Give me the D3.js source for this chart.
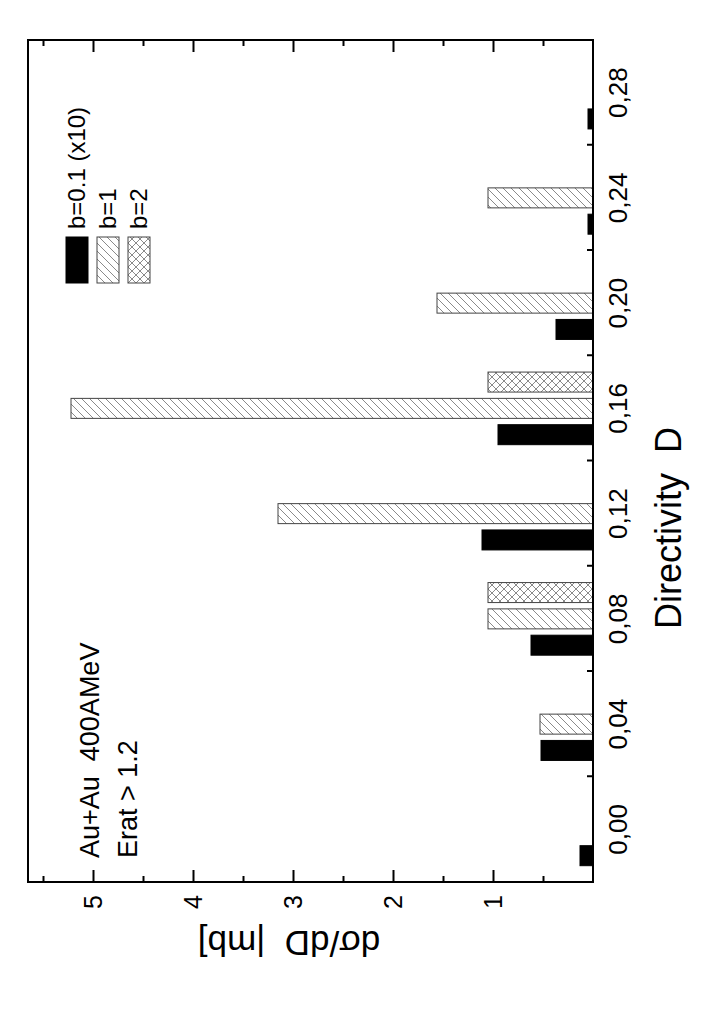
<!DOCTYPE html>
<html><head><meta charset="utf-8">
<script src="https://cdn.jsdelivr.net/npm/d3@7"></script>
<style>body{margin:0;background:#fff} svg{display:block}</style>
</head><body>
<script>
// ---- data ----
const categories = [0.00, 0.04, 0.08, 0.12, 0.16, 0.20, 0.24, 0.28];
const categoryLabels = ["0,00","0,04","0,08","0,12","0,16","0,20","0,24","0,28"];
const valueTicks = [1, 2, 3, 4, 5];
const seriesNames = ["b=0.1 (x10)", "b=1", "b=2"];
const valuesB01 = [0.13, 0.52, 0.62, 1.11, 0.95, 0.37, 0.05, 0.05];
const valuesB1  = [null, 0.53, 1.05, 3.15, 5.22, 1.56, 1.05, null];
const valuesB2  = [null, null, 1.05, null, 1.05, null, null, null];
const annotation1 = "Au+Au  400AMeV";
const annotation2 = "Erat > 1.2";
const xTitle = "Directivity  D";
const yTitle = "d\u03C3/dD  |mb]";

// ---- layout ----
const W = 707, H = 1013;
const svg = d3.select("body").append("svg").attr("width", W).attr("height", H)
  .style("font-family", "'Liberation Sans', Arial, sans-serif");
const defs = svg.append("defs");
const hatch = defs.append("pattern").attr("id","hatch").attr("patternUnits","userSpaceOnUse")
  .attr("width",8).attr("height",8);
hatch.append("rect").attr("width",8).attr("height",8).attr("fill","#fff");
hatch.append("path").attr("d","M0,8L8,0M-2,2L2,-2M6,10L10,6").attr("stroke","#8a8a8a").attr("stroke-width",1);
const cross = defs.append("pattern").attr("id","cross").attr("patternUnits","userSpaceOnUse")
  .attr("width",8).attr("height",8);
cross.append("rect").attr("width",8).attr("height",8).attr("fill","#fff");
cross.append("path").attr("d","M0,8L8,0M-2,2L2,-2M6,10L10,6M0,0L8,8M-2,6L2,10M6,-2L10,2").attr("stroke","#8a8a8a").attr("stroke-width",1);

// chart drawn in unrotated frame, then rotated -90deg onto the page
const g = svg.append("g").attr("transform", `translate(0,${H}) rotate(-90)`);
const x = d3.scaleLinear().domain([-0.02, 0.30]).range([131, 973]);
const y = d3.scaleLinear().domain([0, 5.65]).range([593, 28]);
const offsets = [-0.01, 0, 0.01];
const barW = x(0.0076) - x(0);
const fills = ["#000", "url(#hatch)", "url(#cross)"];
const strokes = ["#000", "#444", "#444"];
const series = [valuesB01, valuesB1, valuesB2];

series.forEach((vals, si) => {
  const data = categories.map((c, i) => ({c, v: vals[i]})).filter(d => d.v != null);
  g.append("g").selectAll("rect").data(data).join("rect")
    .attr("x", d => x(d.c + offsets[si]) - barW / 2)
    .attr("width", barW)
    .attr("y", d => y(d.v))
    .attr("height", d => y(0) - y(d.v))
    .attr("fill", fills[si]).attr("stroke", strokes[si]).attr("stroke-width", 1);
});

// frame
g.append("rect").attr("x", x.range()[0]).attr("y", y.range()[1])
  .attr("width", x.range()[1] - x.range()[0]).attr("height", y.range()[0] - y.range()[1])
  .attr("fill", "none").attr("stroke", "#000").attr("stroke-width", 2);

// x axis: ticks between categories (inward), labels at categories
const xMinor = d3.range(0.02, 0.27, 0.04);
const xAxis = d3.axisBottom(x).tickValues(xMinor).tickSizeInner(-6).tickSizeOuter(0).tickFormat("");
g.append("g").attr("transform", `translate(0,${y(0)})`).call(xAxis)
  .call(s => s.select(".domain").remove())
  .call(s => s.selectAll("line").attr("stroke-width", 2));
g.append("g").selectAll("text").data(categories).join("text")
  .attr("x", d => x(d)).attr("y", 627).attr("text-anchor", "middle")
  .attr("font-size", 26).text((d, i) => categoryLabels[i]);

// y axis (left & right of unrotated frame)
const yMinorVals = d3.range(0.5, 5.6, 1);
[[x.range()[0], 1], [x.range()[1], -1]].forEach(([pos, dir]) => {
  const a = dir > 0 ? d3.axisLeft(y) : d3.axisRight(y);
  g.append("g").attr("transform", `translate(${pos},0)`)
    .call(a.tickValues(valueTicks).tickSizeInner(-12).tickSizeOuter(0).tickFormat(""))
    .call(s => s.select(".domain").remove()).call(s => s.selectAll("line").attr("stroke-width", 2));
  const b = dir > 0 ? d3.axisLeft(y) : d3.axisRight(y);
  g.append("g").attr("transform", `translate(${pos},0)`)
    .call(b.tickValues(yMinorVals).tickSizeInner(-6).tickSizeOuter(0).tickFormat(""))
    .call(s => s.select(".domain").remove()).call(s => s.selectAll("line").attr("stroke-width", 2));
});
g.append("g").selectAll("text").data(valueTicks).join("text")
  .attr("x", 111).attr("y", d => y(d) + 9).attr("text-anchor", "middle")
  .attr("font-size", 25).text(d => d);

// titles
g.append("text").attr("x", 485).attr("y", 681).attr("text-anchor", "middle")
  .attr("font-size", 36).style("white-space", "pre").text(xTitle);
g.append("text").attr("transform", "translate(82,289) rotate(-90)").attr("text-anchor", "middle")
  .attr("font-size", 35).style("white-space", "pre").text(yTitle);

// annotations
g.append("text").attr("x", 155).attr("y", 99).attr("font-size", 27)
  .style("white-space", "pre").text(annotation1);
g.append("text").attr("x", 155).attr("y", 137).attr("font-size", 27)
  .style("white-space", "pre").text(annotation2);

// legend
const leg = g.append("g").selectAll("g").data(seriesNames).join("g")
  .attr("transform", (d, i) => `translate(730,${66 + i * 31})`);
leg.append("rect").attr("width", 46).attr("height", 22)
  .attr("fill", (d, i) => fills[i]).attr("stroke", (d, i) => strokes[i]).attr("stroke-width", 1);
leg.append("text").attr("x", 54).attr("y", 19).attr("font-size", 24).text(d => d);
</script>
</body></html>
